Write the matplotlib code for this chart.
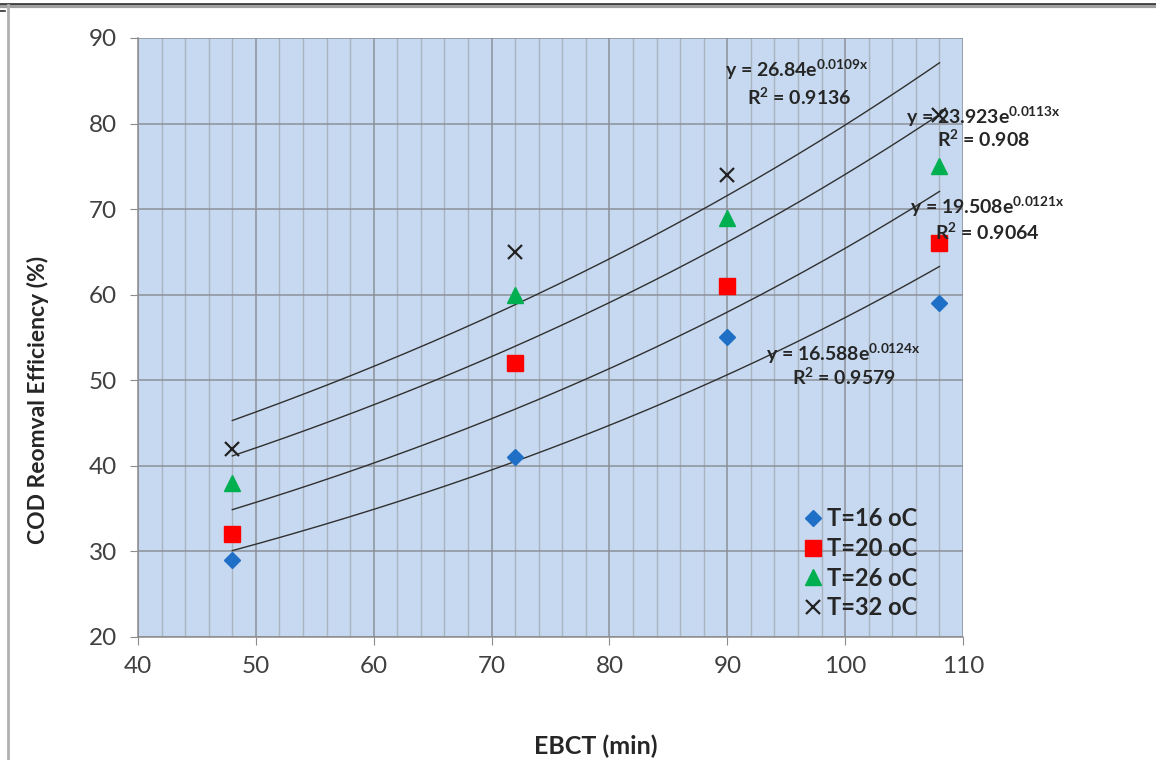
import matplotlib
matplotlib.use('Agg')
import matplotlib.pyplot as plt
import numpy as np
from matplotlib.lines import Line2D
from matplotlib.ticker import MultipleLocator

plt.rcParams['font.family'] = ['Lato', 'DejaVu Sans']
plt.rcParams['mathtext.default'] = 'regular'

# EBCT (min) and COD removal (%) for each temperature
ebct = [48, 72, 90, 108]
cod_t16 = [29, 41, 55, 59]
cod_t20 = [32, 52, 61, 66]
cod_t26 = [38, 60, 69, 75]
cod_t32 = [42, 65, 74, 81]

# exponential trendlines y = a*exp(b*x)
fit_a = [26.84, 23.923, 19.508, 16.588]
fit_b = [0.0109, 0.0113, 0.0121, 0.0124]
fit_r2 = ['0.9136', '0.908', '0.9064', '0.9579']
fit_a_txt = ['26.84', '23.923', '19.508', '16.588']
fit_b_txt = ['0.0109', '0.0113', '0.0121', '0.0124']

fig = plt.figure(figsize=(11.56, 7.6), dpi=100)
ax = fig.add_axes([0.1194, 0.162, 0.7137, 0.788])
ax.set_facecolor('#c6d9f0')

ax.set_xlim(40, 110)
ax.set_ylim(20, 90)
ax.xaxis.set_major_locator(MultipleLocator(10))
ax.xaxis.set_minor_locator(MultipleLocator(2))
ax.yaxis.set_major_locator(MultipleLocator(10))

ax.grid(which='minor', axis='x', color='#aab4c0', lw=1.0)
ax.grid(which='major', axis='x', color='#8a9098', lw=1.1)
ax.grid(which='major', axis='y', color='#8a9098', lw=1.1)
ax.set_axisbelow(True)

for s in ['top', 'right']:
    ax.spines[s].set_visible(False)
for s in ['left', 'bottom']:
    ax.spines[s].set_color('#8c8c8c')
    ax.spines[s].set_linewidth(1.1)

ax.tick_params(which='major', length=6, color='#8c8c8c', labelsize=17.5,
               labelcolor='#404040')
ax.tick_params(axis='y', pad=9)
ax.tick_params(axis='x', pad=8)
ax.tick_params(which='minor', length=0)

# trendlines over the measured range
xs = np.linspace(min(ebct), max(ebct), 200)
for a, b in zip(fit_a, fit_b):
    ax.plot(xs, a * np.exp(b * xs), color='#303030', lw=1.0, zorder=2)

ax.plot(ebct, cod_t16, 'D', color='#1f6fc6', ms=8, ls='none', label='T=16 oC', zorder=3)
ax.plot(ebct, cod_t20, 's', color='#ff0000', ms=11, ls='none', label='T=20 oC', zorder=3)
ax.plot(ebct, cod_t26, '^', color='#00b050', ms=12, ls='none', label='T=26 oC', zorder=3)
ax.plot(ebct, cod_t32, 'x', color='#222222', ms=10, mew=1.6, ls='none', label='T=32 oC', zorder=3)

# equation labels
eq_pos = [(89.8, 86.3), (105.2, 80.8), (105.5, 70.25), (93.3, 53.1)]
r2_pos = [(91.7, 83.1), (107.8, 78.2), (107.6, 67.3), (95.5, 50.3)]
for i in range(4):
    ax.text(eq_pos[i][0], eq_pos[i][1],
            'y = %se$^{%sx}$' % (fit_a_txt[i], fit_b_txt[i]),
            fontsize=14, fontweight='bold', color='#262626',
            ha='left', va='center', zorder=4)
    ax.text(r2_pos[i][0], r2_pos[i][1], 'R$^2$ = %s' % fit_r2[i],
            fontsize=14, fontweight='bold', color='#262626',
            ha='left', va='center', zorder=4)

leg = ax.legend(loc='upper left', bbox_to_anchor=(0.797, 0.232), frameon=False,
                prop={'size': 17, 'weight': 'bold'}, handlelength=0.7,
                handletextpad=0.25, labelspacing=0.28, borderaxespad=0)
for t in leg.get_texts():
    t.set_color('#262626')

ax.set_xlabel('EBCT (min)', fontsize=18, fontweight='bold', color='#262626')
ax.set_ylabel('COD Reomval Efficiency (%)', fontsize=16.5, fontweight='bold', color='#262626')
ax.xaxis.set_label_coords(0.555, -0.163)
ax.yaxis.set_label_coords(-0.108, 0.396)

# outer frame lines
fig.add_artist(Line2D([0, 1], [0.9925, 0.9925], color='#a0a0a0', lw=3.0))
fig.add_artist(Line2D([0, 1], [0.9945, 0.9945], color='#303030', lw=1.2))
fig.add_artist(Line2D([0.0072, 0.0072], [0, 0.993], color='#b0b0b0', lw=2.0))
fig.add_artist(Line2D([0, 0.0045], [0.985, 0.985], color='#303030', lw=1.2))

fig.savefig('out.png', dpi=100)
